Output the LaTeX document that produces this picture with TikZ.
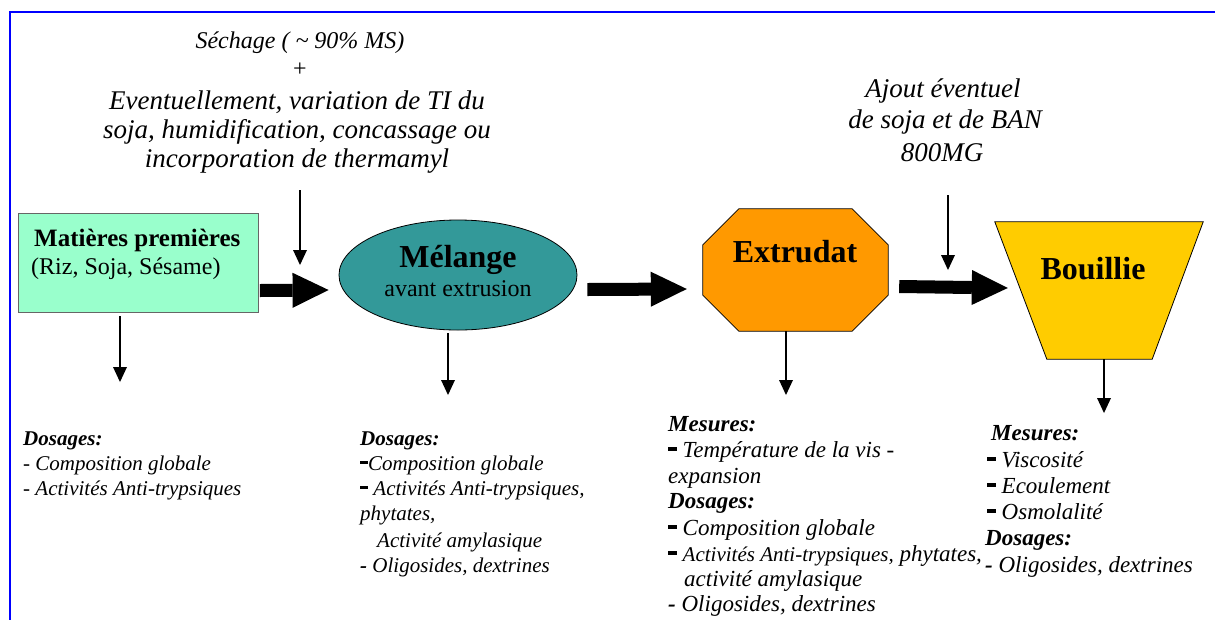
\documentclass[tikz,border=0pt]{standalone}
\usepackage{fontspec}
\setmainfont{Liberation Serif}
\usetikzlibrary{arrows.meta,shapes.geometric,calc}
\definecolor{matgreen}{HTML}{99FFCC}
\definecolor{melteal}{HTML}{339999}
\definecolor{extorange}{HTML}{FF9900}
\definecolor{bouyellow}{HTML}{FFCC00}
\definecolor{framblue}{HTML}{0000FF}
\newcommand{\bdash}{\rule[0.28em]{0.38em}{0.14em}}
\begin{document}
\begin{tikzpicture}[x=1pt,y=-1pt,
  txt/.style={inner sep=0pt, anchor=base west},
  ctxt/.style={inner sep=0pt, anchor=base},
  thinarrow/.style={line width=1.3pt, -{Triangle[length=15pt,width=14pt,line width=0pt]}},
  fatarrow/.style={line width=13pt, -{Triangle[length=36pt,width=35pt,line width=0pt]}},
  shapeline/.style={line width=0.8pt},
  fA/.style={font=\itshape\fontsize{21}{25}\selectfont},
  fB/.style={font=\itshape\fontsize{23}{26}\selectfont},
  ]
\useasboundingbox (0,0) rectangle (1215,619);
\fill[white] (0,0) rectangle (1215,619);
\draw[framblue, line width=2pt] (10,625) -- (10,12) -- (1220,12);

% top texts
\node[ctxt, font=\itshape\fontsize{24}{28}\selectfont] (t1) at (300,48) {Séchage ( \textasciitilde{} 90\% MS)};
\node[ctxt, font=\fontsize{24}{28}\selectfont] (t2) at (300,76) {+};
\node[ctxt, font=\itshape\fontsize{27}{30}\selectfont] (t3) at (297,109) {Eventuellement, variation de TI du};
\node[ctxt, font=\itshape\fontsize{27}{30}\selectfont] (t4) at (297,138) {soja, humidification, concassage ou};
\node[ctxt, font=\itshape\fontsize{27}{30}\selectfont] (t5) at (297,167) {incorporation de thermamyl};

\node[ctxt, font=\itshape\fontsize{27}{30}\selectfont] (r1) at (943,97) {Ajout éventuel};
\node[ctxt, font=\itshape\fontsize{27}{30}\selectfont] (r2) at (945,128) {de soja et de BAN};
\node[ctxt, font=\itshape\fontsize{27}{30}\selectfont] (r3) at (942,161) {800MG};

% main shapes
\node[draw=black!60, shapeline, fill=matgreen, minimum width=240pt, minimum height=99pt, inner sep=0pt] (mat) at (138.5,262.5) {};
\node[txt, font=\bfseries\fontsize{25}{30}\selectfont] (matT) at (34,246) {Matières premières};
\node[txt, font=\fontsize{24}{28}\selectfont] (matS) at (31,274) {(Riz, Soja, Sésame)};

\node[ellipse, draw, shapeline, fill=melteal, minimum width=238pt, minimum height=110pt, inner sep=0pt] (mel) at (458,275) {};
\node[ctxt, font=\bfseries\fontsize{32}{36}\selectfont] (melT) at (458,267) {Mélange};
\node[ctxt, font=\fontsize{24}{28}\selectfont] (melS) at (458,296) {avant extrusion};

\node[minimum width=185pt, minimum height=122pt, inner sep=0pt] (ext) at (795.5,270) {};
\draw[shapeline, fill=extorange] ([xshift=36pt]ext.north west) -- ([xshift=-36pt]ext.north east) -- ([yshift=-36pt]ext.north east) -- ([yshift=36pt]ext.south east) -- ([xshift=-36pt]ext.south east) -- ([xshift=36pt]ext.south west) -- ([yshift=36pt]ext.south west) -- ([yshift=-36pt]ext.north west) -- cycle;
\node[ctxt, font=\bfseries\fontsize{32}{36}\selectfont] (extT) at (795,262) {Extrudat};

\node[minimum width=208pt, minimum height=137pt, inner sep=0pt] (bou) at (1099,290.5) {};
\draw[shapeline, fill=bouyellow] (bou.north west) -- (bou.north east) -- ([xshift=-51pt]bou.south east) -- ([xshift=52pt]bou.south west) -- cycle;
\node[ctxt, font=\bfseries\fontsize{32}{36}\selectfont] (bouT) at (1093,279) {Bouillie};

% fat arrows
\draw[fatarrow] ([shift={(1,28)}]mat.east) -- ([shift={(-10,15)}]mel.west);
\draw[fatarrow] ([shift={(10,14.5)}]mel.east) -- ([shift={(-16,19)}]ext.west);
\draw[fatarrow] ([shift={(11,16.5)}]ext.east) -- ([shift={(13,-2.5)}]bou.west);

% thin arrows
\coordinate (topA) at (300,190);
\coordinate (topB) at (300,265);
\draw[thinarrow] (topA) -- (topB);
\coordinate (rA) at (948,195);
\coordinate (rB) at (948,270);
\draw[thinarrow] (rA) -- (rB);
\coordinate (matB) at (120,382);
\draw[thinarrow] ([shift={(-18.5,4)}]mat.south) -- (matB);
\coordinate (melB) at (448,395);
\draw[thinarrow] ([shift={(-10,3)}]mel.south) -- (melB);
\coordinate (extB) at (786,395);
\draw[thinarrow] ([shift={(-9.5,0)}]ext.south) -- (extB);
\coordinate (bouB) at (1104,413);
\draw[thinarrow] ([shift={(5,0)}]bou.south) -- (bouB);

% column 1
\node[txt,fA] (c1a) at (23,445) {\textbf{Dosages:}};
\node[txt,fA] (c1b) at (23,470) {- Composition globale};
\node[txt,fA] (c1c) at (23,495) {- Activités Anti-trypsiques};
% column 2
\node[txt,fA] (c2a) at (360,445) {\textbf{Dosages:}};
\node[txt,fA] (c2b) at (360,470) {\bdash Composition globale};
\node[txt,fA] (c2c) at (360,495) {\bdash\ Activités Anti-trypsiques,};
\node[txt,fA] (c2d) at (360,520) {phytates,};
\node[txt,fA] (c2e) at (377,547) {Activité amylasique};
\node[txt,fA] (c2f) at (360,572) {\textbf{-} Oligosides, dextrines};
% column 3
\node[txt,fB] (c3a) at (668,431) {\textbf{Mesures:}};
\node[txt,fB] (c3b) at (668,457) {\bdash\ Température de la vis -};
\node[txt,fB] (c3c) at (668,483) {expansion};
\node[txt,fB] (c3d) at (668,508) {\textbf{Dosages:}};
\node[txt,fB] (c3e) at (668,535) {\bdash\ Composition globale};
\node[txt,fB] (c3f) at (668,561) {\bdash\ {\fontsize{21}{24}\selectfont Activités Anti-trypsiques,} phytates,};
\node[txt,fB] (c3g) at (684,586) {activité amylasique};
\node[txt,fB] (c3h) at (668,611) {\textbf{-} Oligosides, dextrines};
% column 4
\node[txt,fB] (c4a) at (991,440) {\textbf{Mesures:}};
\node[txt,fB] (c4b) at (987,467) {\bdash\ Viscosité};
\node[txt,fB] (c4c) at (987,493) {\bdash\ Ecoulement};
\node[txt,fB] (c4d) at (987,519) {\bdash\ Osmolalité};
\node[txt,fB] (c4e) at (985,545) {\textbf{Dosages:}};
\node[txt,fB] (c4f) at (985,572) {\textbf{-} Oligosides, dextrines};
\end{tikzpicture}
\end{document}
